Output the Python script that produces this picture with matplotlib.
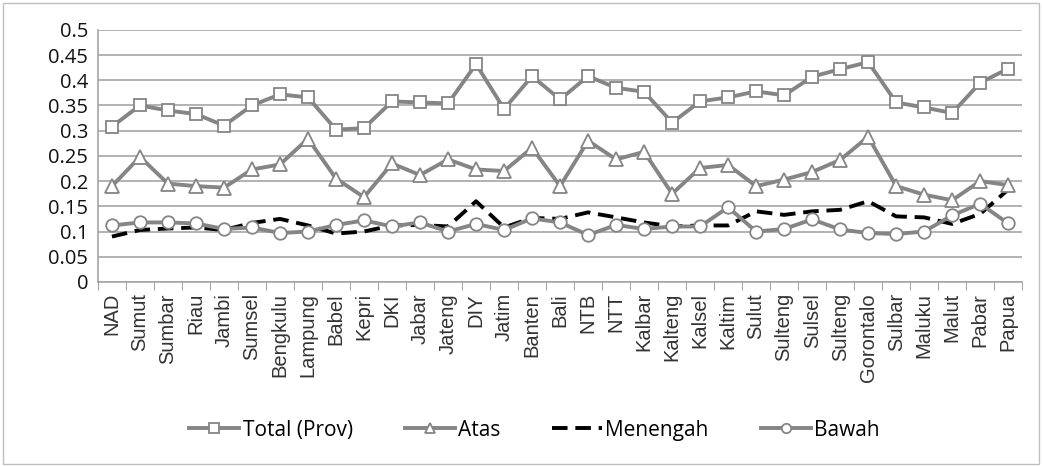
import matplotlib
matplotlib.use("Agg")
import matplotlib.pyplot as plt
import numpy as np

# Provinces along the x axis
provinces = ["NAD", "Sumut", "Sumbar", "Riau", "Jambi", "Sumsel", "Bengkulu",
             "Lampung", "Babel", "Kepri", "DKI", "Jabar", "Jateng", "DIY",
             "Jatim", "Banten", "Bali", "NTB", "NTT", "Kalbar", "Kalteng",
             "Kalsel", "Kaltim", "Sulut", "Sulteng", "Sulsel", "Sulteng",
             "Gorontalo", "Sulbar", "Maluku", "Malut", "Pabar", "Papua"]

total = [0.308, 0.350, 0.340, 0.333, 0.310, 0.350, 0.372, 0.366, 0.302, 0.305,
         0.358, 0.356, 0.354, 0.432, 0.343, 0.408, 0.362, 0.408, 0.385, 0.377,
         0.316, 0.358, 0.366, 0.378, 0.370, 0.407, 0.422, 0.436, 0.356, 0.346,
         0.335, 0.395, 0.423]
atas = [0.190, 0.248, 0.195, 0.190, 0.187, 0.223, 0.233, 0.284, 0.205, 0.168,
        0.235, 0.212, 0.243, 0.223, 0.220, 0.266, 0.190, 0.280, 0.243, 0.258,
        0.175, 0.226, 0.232, 0.190, 0.203, 0.218, 0.242, 0.288, 0.190, 0.173,
        0.162, 0.200, 0.192]
menengah = [0.090, 0.103, 0.106, 0.108, 0.103, 0.117, 0.125, 0.112, 0.096, 0.100,
            0.112, 0.113, 0.110, 0.160, 0.108, 0.127, 0.125, 0.138, 0.128, 0.118,
            0.110, 0.112, 0.112, 0.140, 0.133, 0.140, 0.143, 0.160, 0.130, 0.128,
            0.115, 0.135, 0.183]
bawah = [0.112, 0.118, 0.118, 0.116, 0.105, 0.108, 0.097, 0.100, 0.113, 0.122,
         0.110, 0.118, 0.100, 0.115, 0.103, 0.126, 0.118, 0.093, 0.113, 0.105,
         0.110, 0.110, 0.148, 0.100, 0.105, 0.124, 0.104, 0.097, 0.095, 0.100,
         0.132, 0.155, 0.116]

yticks = [0, 0.05, 0.1, 0.15, 0.2, 0.25, 0.3, 0.35, 0.4, 0.45, 0.5]

gray = "#858585"
fig = plt.figure(figsize=(10.42, 4.66), dpi=100)
ax = fig.add_axes([0.094, 0.395, 0.887, 0.541])
x = np.arange(len(provinces))

ax.plot(x, total, color=gray, lw=2.8, marker="s", ms=9, mfc="white",
        mec=gray, mew=1.3, label="Total (Prov)", zorder=4)
ax.plot(x, atas, color=gray, lw=2.8, marker="^", ms=10, mfc="white",
        mec=gray, mew=1.3, label="Atas", zorder=4)
ax.plot(x, menengah, color="black", lw=2.8, ls=(0, (4, 2)),
        label="Menengah", zorder=3)
ax.plot(x, bawah, color=gray, lw=2.8, marker="o", ms=9, mfc="white",
        mec=gray, mew=1.3, label="Bawah", zorder=4)

ax.set_xlim(-0.5, len(provinces) - 0.5)
ax.set_ylim(0, 0.5)
ax.set_yticks(yticks)
ax.set_yticklabels([f"{v:g}" for v in yticks], fontsize=14.5,
                   family="Open Sans", color="#111111")
ax.yaxis.grid(True, color="#a6a6a6", lw=1.2)
ax.set_axisbelow(True)
ax.tick_params(axis="y", length=0, pad=7)

# category boundaries as ticks, names between them
ax.set_xticks(np.arange(len(provinces) + 1) - 0.5)
ax.set_xticklabels([])
ax.set_xticks(x, minor=True)
ax.set_xticklabels(provinces, minor=True, rotation=90, fontsize=14.5,
                   family="Liberation Sans", color="#333333")
ax.tick_params(axis="x", which="major", length=6, color="#a6a6a6",
               direction="out")
ax.tick_params(axis="x", which="minor", length=0, pad=8)

for side in ["top", "right"]:
    ax.spines[side].set_visible(False)
ax.spines["left"].set_color("#a6a6a6")
ax.spines["left"].set_linewidth(1.2)
ax.spines["bottom"].set_color("#a6a6a6")
ax.spines["bottom"].set_linewidth(1.2)

fig.legend(loc="center", bbox_to_anchor=(0.513, 0.077), ncol=4,
           frameon=False, prop={"family": "Open Sans", "size": 15},
           handlelength=2.4, columnspacing=2.5, handletextpad=0.15,
           markerscale=0.75)

# thin frame around the whole chart
fig.patches.append(plt.Rectangle((0.003, 0.004), 0.994, 0.99,
                                 transform=fig.transFigure, fill=False,
                                 edgecolor="#bfbfbf", lw=1))

fig.savefig("out.png", dpi=100)
